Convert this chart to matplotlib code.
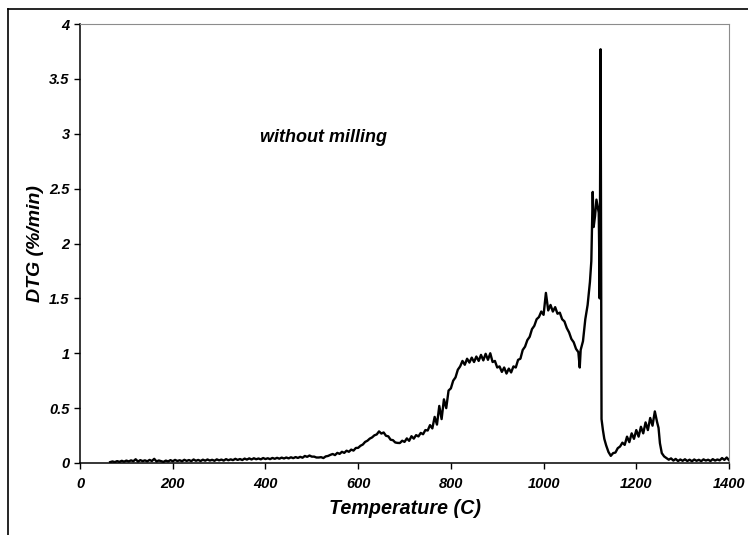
#!/usr/bin/env python

# DTG curve (without milling)

import matplotlib
matplotlib.use('Agg')
import matplotlib.pyplot as plt
from matplotlib.lines import Line2D
from matplotlib.ticker import MultipleLocator

plt.rcParams['font.family'] = ['Liberation Sans', 'DejaVu Sans']

# temperature (C)
temp = [65, 70, 75, 80, 85, 90, 95, 100, 105, 110, 115, 120, 125, 130, 135, 140, 145, 150, 155, 160,
        165, 170, 175, 180, 185, 190, 195, 200, 205, 210, 215, 220, 225, 230, 235, 240, 245, 250, 255, 260,
        265, 270, 275, 280, 285, 290, 295, 300, 305, 310, 315, 320, 325, 330, 335, 340, 345, 350, 355, 360,
        365, 370, 375, 380, 385, 390, 395, 400, 405, 410, 415, 420, 425, 430, 435, 440, 445, 450, 455, 460,
        465, 470, 475, 480, 485, 490, 495, 500, 505, 510, 515, 520, 525, 530, 535, 540,
        545, 550, 555, 560, 565, 570, 575, 580, 585, 590, 595, 600, 605, 610, 615, 620, 625, 630, 635, 640,
        645, 650, 655, 660, 665, 670, 675, 680, 685, 690, 695, 700, 705, 710, 715, 720, 725, 730, 735, 740,
        745, 750, 755, 760,
        765, 770, 775, 780, 785, 790, 795, 800, 805, 810, 815, 820, 825, 830, 835, 840, 845, 850, 855, 860,
        865, 870, 875, 880, 885, 890, 895, 900, 905, 910, 915, 920, 925, 930, 935, 940, 945, 950, 955, 960,
        965, 970, 975, 980, 985, 990, 995, 1000,
        1005, 1010, 1015, 1020, 1025, 1030, 1035, 1040, 1045, 1050, 1055, 1060, 1065, 1070, 1075, 1078,
        1080, 1085, 1090, 1095, 1100, 1103, 1106, 1108, 1111, 1114, 1117, 1119, 1120, 1121, 1123, 1125,
        1128, 1131, 1135, 1140, 1145, 1150, 1155, 1160, 1165, 1170, 1175, 1180, 1185, 1190, 1195, 1200,
        1205, 1210, 1215, 1220, 1225, 1230, 1235, 1240, 1245, 1248, 1251, 1255, 1260, 1265, 1270, 1275,
        1280, 1285, 1290, 1295, 1300, 1305, 1310, 1315, 1320, 1325, 1330, 1335, 1340, 1345, 1350, 1355,
        1360, 1365, 1370, 1375, 1380, 1385, 1390, 1395, 1400]

# DTG (%/min)
dtg = [0.008, 0.014, 0.008, 0.017, 0.010, 0.020, 0.012, 0.022, 0.014, 0.024, 0.016, 0.034, 0.013, 0.026, 0.017, 0.024, 0.015, 0.028, 0.018, 0.038,
       0.014, 0.023, 0.016, 0.010, 0.022, 0.014, 0.026, 0.016, 0.028, 0.018, 0.025, 0.016, 0.029, 0.019, 0.027, 0.017, 0.032, 0.020, 0.028, 0.018,
       0.030, 0.021, 0.032, 0.022, 0.029, 0.020, 0.033, 0.024, 0.031, 0.022, 0.035, 0.025, 0.033, 0.026, 0.038, 0.028, 0.036, 0.027, 0.040, 0.031,
       0.042, 0.032, 0.043, 0.034, 0.041, 0.033, 0.045, 0.036, 0.043, 0.035, 0.046, 0.038, 0.047, 0.039, 0.049, 0.041, 0.050, 0.042, 0.052, 0.044,
       0.054, 0.046, 0.056, 0.048, 0.064, 0.056, 0.068, 0.058, 0.058, 0.050, 0.050, 0.053, 0.045, 0.060, 0.064, 0.074,
       0.082, 0.072, 0.092, 0.083, 0.102, 0.092, 0.112, 0.102, 0.122, 0.113, 0.137, 0.138, 0.157, 0.168, 0.192, 0.203, 0.222, 0.233, 0.252, 0.260,
       0.288, 0.268, 0.278, 0.248, 0.243, 0.212, 0.208, 0.187, 0.183, 0.182, 0.203, 0.192, 0.224, 0.202, 0.244, 0.222, 0.254, 0.242, 0.274, 0.262,
       0.300, 0.296, 0.345, 0.315,
       0.420, 0.350, 0.520, 0.400, 0.580, 0.500, 0.660, 0.680, 0.750, 0.780, 0.850, 0.880, 0.930, 0.895, 0.950, 0.915, 0.960, 0.920, 0.970, 0.930,
       0.985, 0.935, 0.995, 0.940, 1.000, 0.920, 0.930, 0.870, 0.880, 0.830, 0.870, 0.815, 0.860, 0.825, 0.880, 0.870, 0.940, 0.950, 1.030, 1.060,
       1.120, 1.150, 1.220, 1.250, 1.310, 1.330, 1.380, 1.350,
       1.550, 1.390, 1.440, 1.380, 1.420, 1.360, 1.370, 1.310, 1.290, 1.230, 1.190, 1.130, 1.100, 1.040, 1.010, 0.870,
       1.030, 1.110, 1.310, 1.440, 1.650, 1.840, 2.470, 2.150, 2.250, 2.400, 2.330, 2.280, 1.940, 1.500, 3.770, 0.400,
       0.300, 0.220, 0.160, 0.100, 0.065, 0.090, 0.095, 0.135, 0.150, 0.185, 0.165, 0.240, 0.190, 0.270, 0.220, 0.300,
       0.240, 0.330, 0.270, 0.370, 0.300, 0.410, 0.340, 0.470, 0.370, 0.320, 0.180, 0.090, 0.060, 0.045, 0.030, 0.042,
       0.022, 0.037, 0.018, 0.032, 0.020, 0.034, 0.018, 0.030, 0.016, 0.032, 0.020, 0.029, 0.017, 0.033, 0.022, 0.030,
       0.018, 0.035, 0.022, 0.032, 0.024, 0.045, 0.028, 0.050, 0.026]

fig = plt.figure(figsize=(7.48, 5.35), dpi=100)
ax = fig.add_axes([0.107, 0.1346, 0.8676, 0.8205])

ax.plot(temp, dtg, color='k', lw=1.7)

ax.set_xlim(0, 1400)
ax.set_ylim(0, 4)
ax.xaxis.set_major_locator(MultipleLocator(200))
ax.yaxis.set_major_locator(MultipleLocator(0.5))
ax.yaxis.set_major_formatter(plt.FuncFormatter(lambda v, p: '%g' % v))

ax.spines['top'].set_color('#8c8c8c')
ax.spines['right'].set_color('#8c8c8c')
for s in ['left', 'bottom']:
    ax.spines[s].set_linewidth(1.1)
ax.tick_params(direction='out', length=4, width=1, top=False, right=False)
ax.tick_params(axis='x', pad=6)
for lab in ax.get_xticklabels() + ax.get_yticklabels():
    lab.set_fontsize(10.5)
    lab.set_fontweight('bold')
    lab.set_fontstyle('italic')

ax.set_xlabel('Temperature (C)', fontsize=14.2, fontweight='bold', fontstyle='italic', labelpad=6)
ax.set_ylabel('DTG (%/min)', fontsize=14, fontweight='bold', fontstyle='italic', labelpad=4)

ax.text(526, 2.97, 'without milling', fontsize=13, fontweight='bold', fontstyle='italic',
        ha='center', va='center')

# outer frame lines (top and left edges of the page box)
fig.add_artist(Line2D([8 / 748, 8 / 748], [0, 1 - 9 / 535], transform=fig.transFigure, color='k', lw=1.2))
fig.add_artist(Line2D([8 / 748, 1], [1 - 9 / 535, 1 - 9 / 535], transform=fig.transFigure, color='k', lw=1.2))

plt.savefig('out.png', dpi=100)
